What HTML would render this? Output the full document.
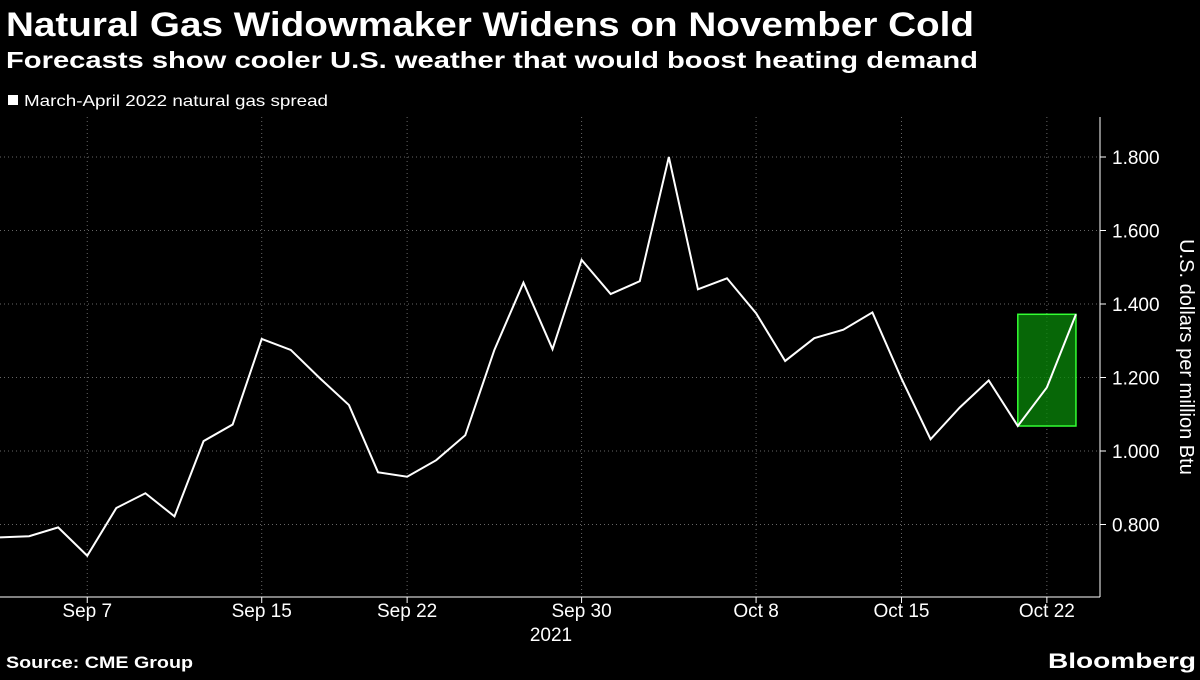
<!DOCTYPE html>
<html><head><meta charset="utf-8"><style>
body{margin:0;background:#000;width:1200px;height:675px;overflow:hidden;font-family:"Liberation Sans",sans-serif;color:#fff}
</style></head><body>
<svg width="1200" height="675" xmlns="http://www.w3.org/2000/svg">
<text x="6" y="36" font-size="34" font-weight="bold" fill="#fff" textLength="968" lengthAdjust="spacingAndGlyphs">Natural Gas Widowmaker Widens on November Cold</text>
<text x="6" y="68" font-size="23" font-weight="bold" fill="#fff" textLength="972" lengthAdjust="spacingAndGlyphs">Forecasts show cooler U.S. weather that would boost heating demand</text>
<rect x="8" y="95" width="10" height="10" fill="#fff"/>
<text x="24" y="106" font-size="16" fill="#fff" textLength="304" lengthAdjust="spacingAndGlyphs">March-April 2022 natural gas spread</text>
<g id="grid"></g>
<g id="axes"></g>
<rect id="hl" fill="#0a8a0a" fill-opacity="0.75" stroke="#3f3" stroke-width="1.5"/>
<polyline id="line" fill="none" stroke="#fff" stroke-width="2"/>
<text transform="translate(1180,357) rotate(90)" text-anchor="middle" font-size="20" fill="#fff">U.S. dollars per million Btu</text>
<text x="6" y="668" font-size="17" font-weight="bold" fill="#fff" textLength="187" lengthAdjust="spacingAndGlyphs">Source: CME Group</text>
<text x="1048" y="668" font-size="21" font-weight="bold" fill="#fff" textLength="148" lengthAdjust="spacingAndGlyphs">Bloomberg</text>
</svg>
<script>
const values=[0.765,0.768,0.792,0.715,0.845,0.885,0.822,1.027,1.072,1.305,1.275,1.198,1.125,0.942,0.930,0.975,1.043,1.275,1.458,1.277,1.520,1.427,1.462,1.800,1.440,1.470,1.375,1.245,1.307,1.330,1.377,1.197,1.032,1.118,1.192,1.068,1.173,1.372];
const xTickLabels=["Sep 7","Sep 15","Sep 22","Sep 30","Oct 8","Oct 15","Oct 22"];
const xTickIdx=[3,9,14,20,26,31,36];
const yTicks=[0.8,1.0,1.2,1.4,1.6,1.8];
const hlStart=35, hlEnd=37;
const NS="http://www.w3.org/2000/svg";
const xs=i=>i*29.08;
const ys=v=>157+(1.8-v)*367.5;
const grid=document.getElementById('grid'),axes=document.getElementById('axes');
function mk(tag,attrs,parent){const e=document.createElementNS(NS,tag);for(const k in attrs)e.setAttribute(k,attrs[k]);parent.appendChild(e);return e;}
yTicks.forEach(v=>{
 const g=mk('line',{x1:0,x2:1100,y1:ys(v),y2:ys(v),stroke:'#666','stroke-dasharray':'1,3'},grid);
 
 
 const t=mk('line',{x1:1100,x2:1106,y1:ys(v),y2:ys(v),stroke:'#fff'},axes);
 
 
 const l=mk('text',{x:1112,y:ys(v)+7,'font-size':19,fill:'#fff'},axes);
 l.textContent=v.toFixed(3);
 
 
});
xTickIdx.forEach((i,k)=>{
 const g=mk('line',{x1:xs(i),x2:xs(i),y1:117,y2:597,stroke:'#666','stroke-dasharray':'1,3'},grid);
 
 
 const t=mk('line',{x1:xs(i),x2:xs(i),y1:597,y2:603,stroke:'#fff'},axes);
 
 
 const l=mk('text',{x:xs(i),y:617,'font-size':19,fill:'#fff','text-anchor':'middle'},axes);
 l.textContent=xTickLabels[k];
 
 
});
const yr=mk('text',{x:551,y:641,'font-size':19,fill:'#fff','text-anchor':'middle'},axes);
yr.textContent='2021';


const xa=mk('line',{x1:0,x2:1100,y1:597,y2:597,stroke:'#fff'},axes);


const ya=mk('line',{x1:1100,x2:1100,y1:117,y2:597,stroke:'#fff'},axes);


document.getElementById('line').setAttribute('points',values.map((v,i)=>xs(i)+','+ys(v)).join(' '));
const lo=Math.min(...values.slice(hlStart,hlEnd+1)),hi=Math.max(...values.slice(hlStart,hlEnd+1));
const hl=document.getElementById('hl');
hl.setAttribute('x',xs(hlStart));hl.setAttribute('width',xs(hlEnd)-xs(hlStart));
hl.setAttribute('y',ys(hi));hl.setAttribute('height',ys(lo)-ys(hi));
</script>
</body></html>
